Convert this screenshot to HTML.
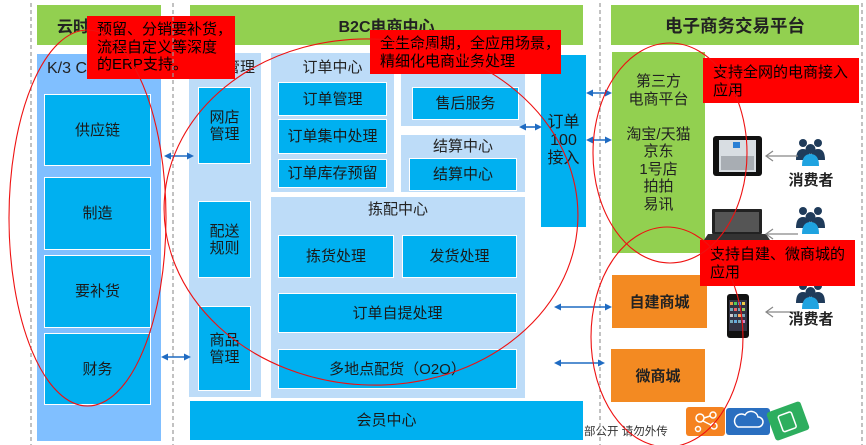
<!DOCTYPE html>
<html><head><meta charset="utf-8">
<style>
html,body{margin:0;padding:0;}
body{width:866px;height:445px;position:relative;overflow:hidden;background:#fff;font-family:"Liberation Sans","Noto Sans CJK SC",sans-serif;color:#1a1a1a;}
.a{position:absolute;box-sizing:border-box;}
.hdr{background:#92d050;font-weight:bold;color:#222;display:flex;align-items:center;justify-content:center;}
.pn{background:#bddcf8;}
.bx{background:#00b0f0;border:1px solid #fff;display:flex;align-items:center;justify-content:center;text-align:center;font-size:15px;line-height:17px;color:#1a1a1a;}
.lbl{position:absolute;font-size:15px;line-height:17px;text-align:center;color:#222;}
.co{background:#ff0000;color:#000;font-size:15px;line-height:17.5px;}
.or{background:#f38a22;display:flex;align-items:center;justify-content:center;font-weight:bold;font-size:15px;color:#222;}
</style></head><body>

<!-- headers -->
<div class="a hdr" style="left:37px;top:5px;width:124px;height:40px;font-size:16px;justify-content:flex-start;padding-left:20px;">云时代ERP</div>
<div class="a hdr" style="left:190px;top:5px;width:393px;height:40px;font-size:16px;">B2C电商中心</div>
<div class="a hdr" style="left:611px;top:5px;width:248px;height:40px;font-size:17.5px;">电子商务交易平台</div>

<!-- left column -->
<div class="a" style="left:37px;top:54px;width:124px;height:387px;background:#80bfff;"></div>
<div class="lbl" style="left:47px;top:60px;font-size:16px;text-align:left;white-space:nowrap;">K/3 Cloud</div>
<div class="a bx" style="left:44px;top:94px;width:107px;height:72px;">供应链</div>
<div class="a bx" style="left:44px;top:177px;width:107px;height:73px;">制造</div>
<div class="a bx" style="left:44px;top:255px;width:107px;height:73px;">要补货</div>
<div class="a bx" style="left:44px;top:333px;width:107px;height:72px;">财务</div>

<!-- store panel -->
<div class="a pn" style="left:189px;top:53px;width:72px;height:344px;"></div>
<div class="lbl" style="left:189px;top:59px;width:72px;">店铺管理</div>
<div class="a bx" style="left:198px;top:87px;width:53px;height:77px;">网店<br>管理</div>
<div class="a bx" style="left:198px;top:201px;width:53px;height:77px;">配送<br>规则</div>
<div class="a bx" style="left:198px;top:306px;width:53px;height:85px;">商品<br>管理</div>

<!-- order center -->
<div class="a pn" style="left:271px;top:53px;width:123px;height:139px;"></div>
<div class="lbl" style="left:271px;top:59px;width:123px;">订单中心</div>
<div class="a bx" style="left:278px;top:82px;width:109px;height:34px;">订单管理</div>
<div class="a bx" style="left:278px;top:119px;width:109px;height:35px;">订单集中处理</div>
<div class="a bx" style="left:278px;top:159px;width:109px;height:29px;">订单库存预留</div>

<!-- after-sales -->
<div class="a pn" style="left:401px;top:53px;width:124px;height:73px;"></div>
<div class="lbl" style="left:401px;top:59px;width:124px;">售后中心</div>
<div class="a bx" style="left:412px;top:87px;width:107px;height:33px;">售后服务</div>

<!-- settlement -->
<div class="a pn" style="left:401px;top:135px;width:124px;height:57px;"></div>
<div class="lbl" style="left:401px;top:138px;width:124px;">结算中心</div>
<div class="a bx" style="left:409px;top:158px;width:108px;height:33px;">结算中心</div>

<!-- picking center -->
<div class="a pn" style="left:271px;top:197px;width:254px;height:201px;"></div>
<div class="lbl" style="left:271px;top:201px;width:254px;">拣配中心</div>
<div class="a bx" style="left:278px;top:235px;width:116px;height:43px;">拣货处理</div>
<div class="a bx" style="left:402px;top:235px;width:115px;height:43px;">发货处理</div>
<div class="a bx" style="left:278px;top:293px;width:239px;height:40px;">订单自提处理</div>
<div class="a bx" style="left:278px;top:349px;width:239px;height:40px;">多地点配货（O2O）</div>

<!-- member center -->
<div class="a bx" style="left:190px;top:401px;width:393px;height:39px;border:none;">会员中心</div>

<!-- order100 -->
<div class="a bx" style="left:541px;top:55px;width:45px;height:172px;border:none;font-size:16px;line-height:18px;">订单<br>100<br>接入</div>

<!-- right -->
<div class="a" style="left:612px;top:52px;width:93px;height:201px;background:#92d050;"></div>
<div class="lbl" style="left:612px;top:73px;width:93px;line-height:17.5px;">第三方<br>电商平台<br><br>淘宝/天猫<br>京东<br>1号店<br>拍拍<br>易讯</div>
<div class="a or" style="left:612px;top:275px;width:95px;height:53px;">自建商城</div>
<div class="a or" style="left:611px;top:349px;width:94px;height:53px;">微商城</div>

<!-- devices, people, logos -->
<svg class="a" style="left:0;top:0;" width="866" height="445" viewBox="0 0 866 445">
  <!-- tablet -->
  <rect x="713" y="136" width="49" height="40" rx="3" fill="#111"/>
  <rect x="719" y="140" width="37" height="32" fill="#d8dde2"/>
  <rect x="721" y="156" width="33" height="14" fill="#a8adb3"/>
  <rect x="733" y="142" width="7" height="6" fill="#2a7fd4"/>
  <!-- laptop -->
  <rect x="712" y="209" width="50" height="25" rx="1" fill="#222"/>
  <rect x="715" y="212" width="44" height="20" fill="#555"/>
  <polygon points="708,234 766,234 770,240 704,240" fill="#333"/>
  <!-- phone -->
  <rect x="727" y="294" width="22" height="44" rx="3" fill="#111"/>
  <rect x="729" y="300" width="18" height="31" fill="#334"/>
  <g fill="#7ab">
    <rect x="730" y="302" width="3" height="3" fill="#e94"/><rect x="734" y="302" width="3" height="3" fill="#5c5"/><rect x="738" y="302" width="3" height="3" fill="#59e"/><rect x="742" y="302" width="3" height="3" fill="#ec4"/>
    <rect x="730" y="308" width="3" height="3"/><rect x="734" y="308" width="3" height="3" fill="#e66"/><rect x="738" y="308" width="3" height="3"/><rect x="742" y="308" width="3" height="3" fill="#9c6"/>
    <rect x="730" y="314" width="3" height="3" fill="#ccc"/><rect x="734" y="314" width="3" height="3"/><rect x="738" y="314" width="3" height="3" fill="#fa5"/><rect x="742" y="314" width="3" height="3"/>
    <rect x="730" y="320" width="3" height="3"/><rect x="734" y="320" width="3" height="3" fill="#6ad"/><rect x="738" y="320" width="3" height="3"/><rect x="742" y="320" width="3" height="3" fill="#c8c"/>
  </g>
  <!-- people icons -->
  <g id="pp">
    <circle cx="803" cy="143" r="4" fill="#1f3b5a"/>
    <circle cx="818" cy="143" r="4" fill="#1f3b5a"/>
    <path d="M796,160 q0,-11 7,-11 q7,0 7,11 z" fill="#1f3b5a"/>
    <path d="M811,160 q0,-11 7,-11 q7,0 7,11 z" fill="#1f3b5a"/>
    <circle cx="810.5" cy="149" r="5" fill="#1f3b5a"/>
    <path d="M802,166 q0,-12 8.5,-12 q8.5,0 8.5,12 z" fill="#1fa3e0"/>
  </g>
  <use href="#pp" x="0" y="68"/>
  <use href="#pp" x="0" y="143"/>
  <!-- gray arrows people->devices -->
  <g stroke="#888" stroke-width="1.2" fill="none">
    <line x1="798" y1="156" x2="766" y2="156"/><polyline points="773,151 766,156 773,161"/>
    <line x1="798" y1="234" x2="766" y2="234"/><polyline points="773,229 766,234 773,239"/>
    <line x1="800" y1="312" x2="766" y2="312"/><polyline points="773,307 766,312 773,317"/>
  </g>
  <!-- bottom logos -->
  <rect x="686" y="407" width="39" height="29" rx="3" fill="#f58220"/>
  <g stroke="#fff" stroke-width="1.5" fill="none">
    <circle cx="700" cy="418" r="4"/><circle cx="713" cy="415" r="3"/><circle cx="714" cy="426" r="3"/><circle cx="698" cy="429" r="2.5"/>
    <line x1="704" y1="418" x2="710" y2="416"/><line x1="703" y1="421" x2="711" y2="425"/>
  </g>
  <rect x="726" y="408" width="44" height="27" rx="3" fill="#2a6fc0"/>
  <path d="M738,427 h20 a5,5 0 0 0 0,-10 a7,7 0 0 0 -13,-2 a5,5 0 0 0 -7,12 z" fill="none" stroke="#fff" stroke-width="1.5"/>
  <rect x="770" y="406" width="36" height="30" rx="3" fill="#2dae5e" transform="rotate(-20 788 421)"/>
  <rect x="780" y="413" width="14" height="17" rx="2" fill="none" stroke="#fff" stroke-width="1.5" transform="rotate(-20 788 421)"/>
</svg>

<div class="lbl" style="left:788px;top:172px;width:46px;font-weight:bold;font-size:15px;">消费者</div>
<div class="lbl" style="left:788px;top:311px;width:46px;font-weight:bold;font-size:15px;">消费者</div>
<div class="lbl" style="left:584px;top:425px;font-size:11.5px;line-height:14px;text-align:left;white-space:nowrap;color:#333;">部公开 请勿外传</div>

<!-- callouts -->
<div class="a co" style="left:87px;top:16px;width:148px;height:63px;padding:5px 0 0 10px;">预留、分销要补货，<br>流程自定义等深度<br>的ERP支持。</div>
<div class="a co" style="left:370px;top:30px;width:191px;height:44px;padding:5px 0 0 10px;">全生命周期，全应用场景，<br>精细化电商业务处理</div>
<div class="a co" style="left:703px;top:58px;width:156px;height:45px;padding:6px 0 0 10px;">支持全网的电商接入<br>应用</div>
<div class="a co" style="left:700px;top:240px;width:155px;height:46px;padding:6px 0 0 10px;">支持自建、微商城的<br>应用</div>

<!-- overlay: dashed lines, arrows, ellipses -->
<svg class="a" style="left:0;top:0;pointer-events:none;" width="866" height="445" viewBox="0 0 866 445">
  <g stroke="#9a9a9a" stroke-width="1.2" stroke-dasharray="4 3">
    <line x1="31" y1="3" x2="31" y2="445"/>
    <line x1="173" y1="3" x2="173" y2="445"/>
    <line x1="600" y1="3" x2="600" y2="445"/>
    <line x1="862" y1="3" x2="862" y2="445"/>
  </g>
  <g stroke="#1f6bc2" stroke-width="1.6" fill="#1f6bc2">
    <line x1="168" y1="156" x2="190" y2="156"/>
    <polygon points="164,156 171,152.5 171,159.5" stroke="none"/><polygon points="194,156 187,152.5 187,159.5" stroke="none"/>
    <line x1="165" y1="357" x2="187" y2="357"/>
    <polygon points="161,357 168,353.5 168,360.5" stroke="none"/><polygon points="191,357 184,353.5 184,360.5" stroke="none"/>
    <line x1="523" y1="127" x2="538" y2="127"/>
    <polygon points="519,127 526,123.5 526,130.5" stroke="none"/><polygon points="542,127 535,123.5 535,130.5" stroke="none"/>
    <line x1="590" y1="93" x2="609" y2="93"/>
    <polygon points="586,93 593,89.5 593,96.5" stroke="none"/><polygon points="612,93 605,89.5 605,96.5" stroke="none"/>
    <line x1="590" y1="140" x2="609" y2="140"/>
    <polygon points="586,140 593,136.5 593,143.5" stroke="none"/><polygon points="612,140 605,136.5 605,143.5" stroke="none"/>
    <line x1="558" y1="307" x2="608" y2="307"/>
    <polygon points="554,307 561,303.5 561,310.5" stroke="none"/><polygon points="612,307 605,303.5 605,310.5" stroke="none"/>
    <line x1="558" y1="363" x2="601" y2="363"/>
    <polygon points="554,363 561,359.5 561,366.5" stroke="none"/><polygon points="605,363 598,359.5 598,366.5" stroke="none"/>
  </g>
  <g fill="none" stroke="#ee1111" stroke-width="1.1">
    <ellipse cx="87.5" cy="218" rx="78.5" ry="188"/>
    <ellipse cx="371" cy="212" rx="207" ry="173" transform="rotate(3 371 212)"/>
    <ellipse cx="670" cy="153" rx="77" ry="110"/>
    <ellipse cx="667" cy="337" rx="76" ry="110"/>
  </g>
</svg>

</body></html>
